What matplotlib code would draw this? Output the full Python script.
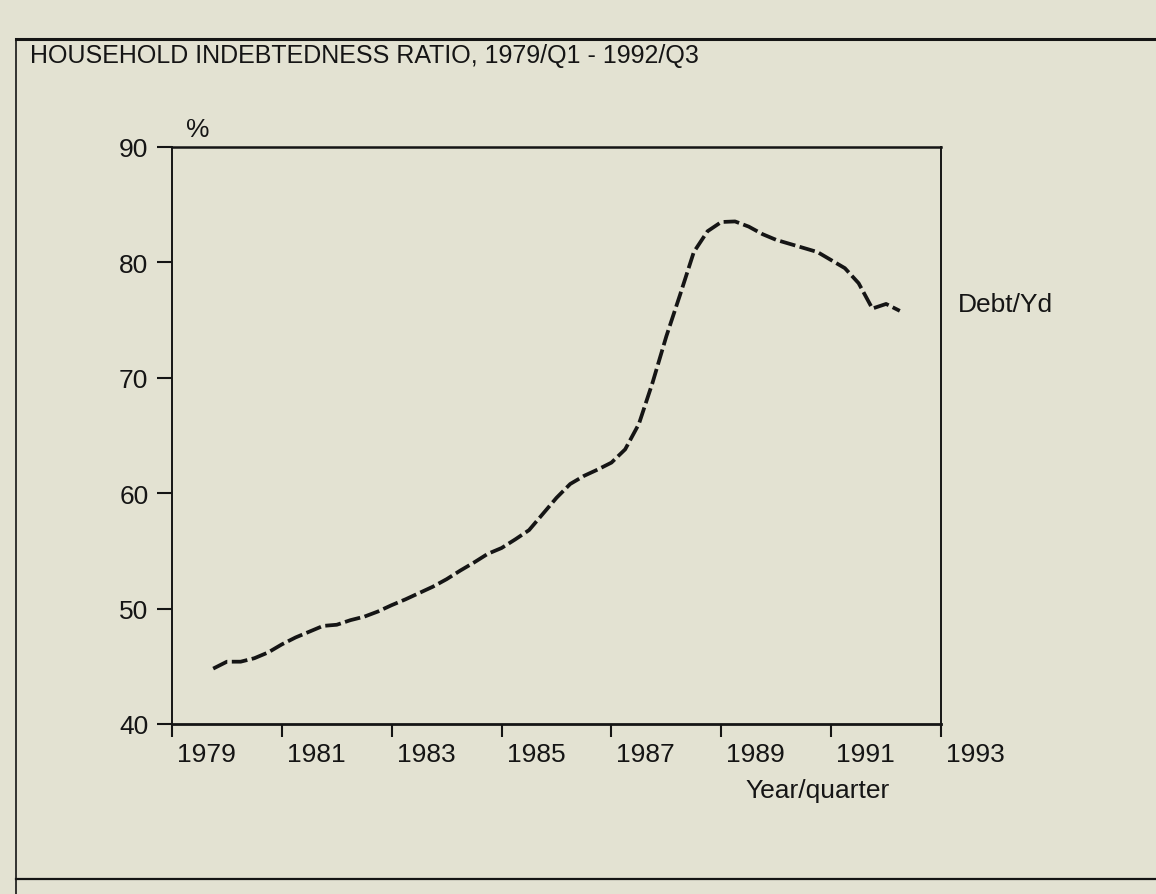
"""
Household indebtedness ratio (Debt/Yd), 1979/Q1 - 1992/Q3.
Recreation of a scanned report chart.
"""

import matplotlib

matplotlib.use("Agg")
import matplotlib.pyplot as plt
import matplotlib.transforms as mtransforms
from matplotlib import font_manager
import numpy as np

BG = "#e3e2d2"
INK = "#151515"

# quarterly positions (plotted series runs 1979/Q4 .. 1992/Q2 on the year axis)
quarters = np.arange(1979.75, 1992.26, 0.25)
debt_yd = [
    44.8,
    45.4, 45.4, 45.7, 46.2,
    46.9, 47.5, 48.0, 48.5,
    48.6, 49.0, 49.3, 49.75,
    50.3, 50.8, 51.35, 51.9,
    52.55, 53.3, 54.0, 54.75,
    55.25, 56.0, 56.8, 58.2,
    59.6, 60.8, 61.5, 62.05,
    62.65, 63.8, 66.0, 69.6,
    73.6, 77.2, 80.9, 82.7,
    83.5, 83.55, 83.1, 82.45,
    81.95, 81.6, 81.25, 80.9,
    80.2, 79.5, 78.2, 76.0,
    76.4, 75.8,
]
year_ticks = [1979, 1981, 1983, 1985, 1987, 1989, 1991, 1993]
pct_ticks = [40, 50, 60, 70, 80, 90]

title = "HOUSEHOLD INDEBTEDNESS RATIO, 1979/Q1 - 1992/Q3"
series_label = "Debt/Yd"

# narrow sans if the system has one, the scan uses a condensed Helvetica
names = {f.name for f in font_manager.fontManager.ttflist}
FONT = "Liberation Sans Narrow" if "Liberation Sans Narrow" in names else "Liberation Sans"
plt.rcParams["font.family"] = [FONT, "DejaVu Sans"]

fig = plt.figure(figsize=(11.56, 8.95), dpi=100, facecolor=BG)

# outer frame of the page panel
frame = fig.add_axes([0, 0, 1, 1], facecolor="none")
frame.set_xlim(0, 1156)
frame.set_ylim(895, 0)
frame.axis("off")
frame.plot([16, 1156], [40, 40], color=INK, lw=2.2)
frame.plot([16, 16], [40, 895], color=INK, lw=1.2)
frame.plot([16, 1156], [880, 880], color=INK, lw=1.6)

frame.text(30, 56, title, fontsize=18, color=INK, va="center", ha="left")

ax = fig.add_axes([172 / 1156, 1 - 725 / 895, (941 - 172) / 1156, (725 - 148) / 895])
ax.set_facecolor("none")
ax.plot(quarters, debt_yd, color=INK, lw=2.7, dashes=(4.2, 1.2), solid_capstyle="butt")

ax.set_xlim(1979, 1993)
ax.set_ylim(40, 90)
ax.set_xticks(year_ticks)
ax.set_xticklabels([str(y) for y in year_ticks], ha="left")
ax.set_yticks(pct_ticks)

for side in ["left", "right", "top", "bottom"]:
    ax.spines[side].set_color(INK)
    ax.spines[side].set_linewidth(1.4)
ax.spines["bottom"].set_linewidth(2.0)
ax.spines["top"].set_linewidth(1.8)

ax.tick_params(axis="x", direction="out", length=9, width=1.5, colors=INK,
               labelsize=19, pad=4)
ax.tick_params(axis="y", direction="out", length=11, width=1.5, colors=INK,
               labelsize=19, pad=6)
# year labels sit just right of their tick, as in the original
offset = mtransforms.ScaledTranslation(5 / 100, 0, fig.dpi_scale_trans)
for lab in ax.get_xticklabels():
    lab.set_transform(lab.get_transform() + offset)

ax.text(0.018, 1.01, "%", transform=ax.transAxes, fontsize=19, color=INK,
        ha="left", va="bottom")
ax.text(1.022, 76.4, series_label, transform=ax.get_yaxis_transform(),
        fontsize=19, color=INK, ha="left", va="center")
ax.text(0.84, -0.115, "Year/quarter", transform=ax.transAxes, fontsize=19,
        color=INK, ha="center", va="center")

fig.savefig("out.png", dpi=100, facecolor=BG)
